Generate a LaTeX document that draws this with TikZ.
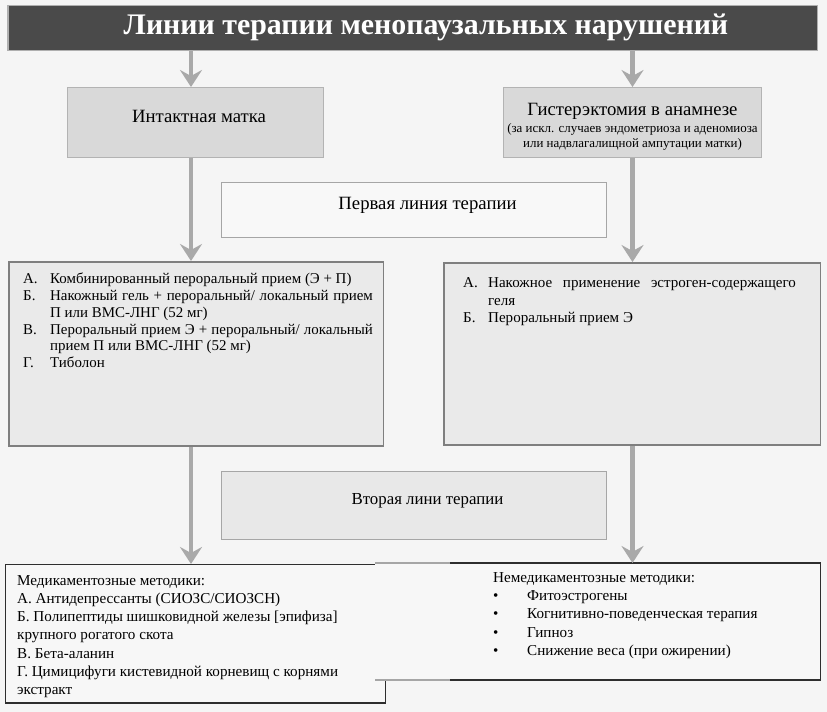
\documentclass[tikz,border=0pt]{standalone}
\usepackage{fontspec}
\setmainfont{Liberation Serif}
\usetikzlibrary{arrows.meta}
\definecolor{bgc}{HTML}{F5F5F5}
\definecolor{titlefill}{HTML}{4A4A4A}
\definecolor{titleborder}{HTML}{AFAFAF}
\definecolor{grayfill}{HTML}{D9D9D9}
\definecolor{grayborder}{HTML}{B3B3B3}
\definecolor{lightfill}{HTML}{F8F8F8}
\definecolor{midfill}{HTML}{EAEAEA}
\definecolor{midborder}{HTML}{7F7F7F}
\definecolor{secfill}{HTML}{E8E8E8}
\definecolor{lineborder}{HTML}{A6A6A6}
\definecolor{botfill}{HTML}{F7F7F7}
\definecolor{botborder}{HTML}{2E2E2E}
\definecolor{arrowgray}{HTML}{A9A9A9}
\newcommand{\litem}[3]{\par\hangindent=#1\hangafter=1\noindent\makebox[#1][l]{#2}#3}
\begin{document}
\begin{tikzpicture}[x=1bp,y=-1bp,
  boxshape/.style={inner sep=0pt, anchor=north west},
  titlebox/.style={boxshape, fill=titlefill, draw=titleborder, line width=1.5bp},
  graybox/.style={boxshape, fill=grayfill, draw=grayborder, line width=1.2bp},
  linebox/.style={boxshape, fill=lightfill, draw=lineborder, line width=1.2bp},
  secbox/.style={boxshape, fill=secfill, draw=lineborder, line width=1.2bp},
  midbox/.style={boxshape, fill=midfill, draw=midborder, line width=1.6bp},
  botbox/.style={boxshape, fill=botfill, draw=botborder, line width=1.1bp},
  txt/.style={inner sep=0pt, font=\fontsize{18.8}{22}\selectfont},
  listtxt/.style={inner sep=0pt, anchor=north west, align=justify},
  flow/.style={draw=arrowgray, line width=4.5bp, -{Stealth[length=17bp,width=22bp,inset=6bp]}}
]
\useasboundingbox (0,0) rectangle (827,712);
\fill[bgc] (0,0) rectangle (827,712);

% title
\node[titlebox, minimum width=813, minimum height=45] (title) at (7,5) {};
\node[txt, text=white, font=\fontsize{30}{33}\selectfont\bfseries] (titletext) at (426,27) {Линии терапии менопаузальных нарушений};

% second row
\node[graybox, minimum width=257, minimum height=70] (intakt) at (67,87) {};
\node[txt] (intakttext) at (199,116) {Интактная матка};
\node[graybox, minimum width=259, minimum height=70] (hyster) at (503,87) {};
\node[txt] (hystertext) at (632.5,111) {Гистерэктомия в анамнезе};
\node[inner sep=0pt, align=center, font=\fontsize{13}{14.5}\selectfont] (hystersub) at (632.5,137)
  {(за искл. случаев эндометриоза и аденомиоза\\или надвлагалищной ампутации матки)};

% first line
\node[linebox, minimum width=386, minimum height=55] (first) at (221,182) {};
\node[txt] (firsttext) at (427.5,205) {Первая линия терапии};

% middle boxes
\node[midbox, minimum width=376, minimum height=185] (midL) at (8,261) {};
\node[listtxt, text width=351, font=\fontsize{15}{16.8}\selectfont] (midLtext) at (23,267) {%
\litem{27bp}{А.}{Комбинированный пероральный прием (Э + П)}
\litem{27bp}{Б.}{Накожный гель + пероральный/ локальный прием\linebreak П или ВМС-ЛНГ (52 мг)}
\litem{27bp}{В.}{Пероральный прием Э + пероральный/ локальный\linebreak прием П или ВМС-ЛНГ (52 мг)}
\litem{27bp}{Г.}{Тиболон}\par};
\node[midbox, minimum width=378, minimum height=183] (midR) at (443,262) {};
\node[listtxt, text width=334, font=\fontsize{15.1}{18}\selectfont] (midRtext) at (463,269) {%
\litem{25bp}{А.}{Накожное применение эстроген-содержащего\linebreak геля}
\litem{25bp}{Б.}{Пероральный прием Э}\par};

% second line
\node[secbox, minimum width=386, minimum height=68] (second) at (221,471) {};
\node[txt, font=\fontsize{16.9}{20}\selectfont] (secondtext) at (427.5,501) {Вторая лини терапии};

% bottom boxes
\node[botbox, minimum width=381, minimum height=139] (botL) at (5,564) {};
\node[boxshape, fill=botfill, minimum width=447, minimum height=117] (botR) at (375,563) {};
\coordinate (brk) at (450,0);
\draw[botborder, line width=1.1bp] (botR.north west -| brk) -- (botR.north east) -- (botR.south east) -- (botR.south west -| brk);
\draw[lineborder, line width=1.1bp] (botR.north west) -- (botR.north west -| brk);
\draw[lineborder, line width=1.1bp] (botR.south west) -- (botR.south west -| brk);

\node[inner sep=0pt, anchor=north west, align=left, font=\fontsize{15.2}{18.3}\selectfont] (botLtext) at (17,575) {%
Медикаментозные методики:\\
А. Антидепрессанты (СИОЗС/СИОЗСН)\\
Б. Полипептиды шишковидной железы [эпифиза]\\
крупного рогатого скота\\
В. Бета-аланин\\
Г. Цимицифуги кистевидной корневищ с корнями\\
экстракт};
\node[inner sep=0pt, anchor=north west, align=left, font=\fontsize{15.2}{18.5}\selectfont] (botRtext) at (493,572) {%
Немедикаментозные методики:\\
\makebox[34bp][l]{•}Фитоэстрогены\\
\makebox[34bp][l]{•}Когнитивно-поведенческая терапия\\
\makebox[34bp][l]{•}Гипноз\\
\makebox[34bp][l]{•}Снижение веса (при ожирении)};

% arrows
\coordinate (colL) at (191,0);
\coordinate (colR) at (632.5,0);
\draw[flow] (title.south -| colL) -- (intakt.north -| colL);
\draw[flow] (title.south -| colR) -- (hyster.north -| colR);
\draw[flow] (intakt.south -| colL) -- (midL.north -| colL);
\draw[flow] (hyster.south -| colR) -- (midR.north -| colR);
\draw[flow] (midL.south -| colL) -- (botL.north -| colL);
\draw[flow] (midR.south -| colR) -- (botR.north -| colR);
\end{tikzpicture}
\end{document}
